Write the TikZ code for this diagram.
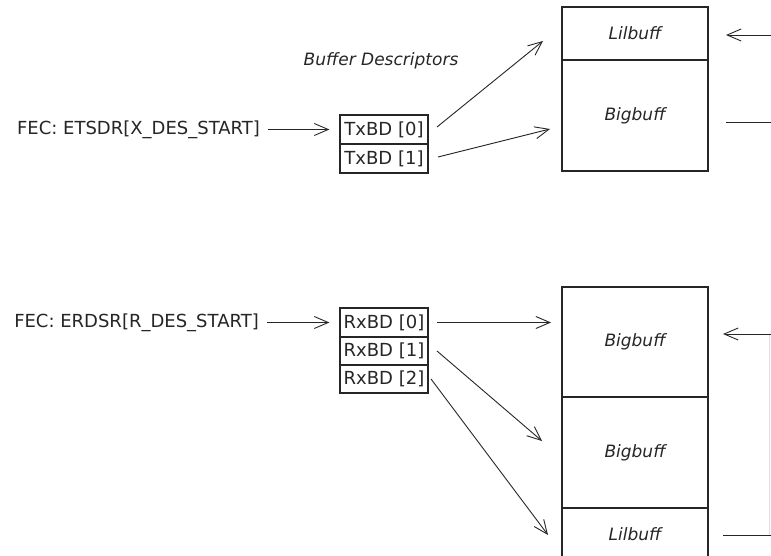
\documentclass[tikz,border=0pt]{standalone}
\usepackage{fontspec}
\setmainfont{DejaVu Sans}
\usetikzlibrary{arrows.meta}
\begin{document}
\begin{tikzpicture}[x=1pt,y=-1pt,
  ink/.style={text=black!85},
  lbl/.style={ink,font=\fontsize{18}{20}\selectfont,inner sep=0pt},
  ital/.style={ink,font=\fontsize{17}{19}\selectfont\itshape,inner sep=0pt},
  buf/.style={draw=black!85,line width=1.2pt,minimum width=146pt,inner sep=0pt,ink,font=\fontsize{17}{19}\selectfont\itshape},
  bd/.style={draw=black!85,line width=1.2pt,minimum width=88pt,inner sep=0pt,ink,font=\fontsize{18}{20}\selectfont},
  arr/.style={draw=black!85,line width=0.9pt,-{Straight Barb[length=14pt,width=12pt,line width=0.9pt]}},
  plain/.style={draw=black!85,line width=0.9pt},
  faint/.style={draw=black!12,line width=0.6pt}]
\clip (0,0) rectangle (771,556);
\fill[white] (0,0) rectangle (771,556);

% ---- transmit part ----
\node[lbl] (fecT) at (138.5,129.5) {FEC: ETSDR[X\_DES\_START]};
\node[ital] (bdlbl) at (381,61) {Buffer Descriptors};
\node[bd,minimum height=29pt] (tx0) at (384,129.5) {TxBD [0]};
\node[bd,minimum height=29pt] (tx1) at (384,158.5) {TxBD [1]};
\node[buf,minimum height=53pt] (tl) at (635,33.5) {Lilbuff};
\node[buf,minimum height=111pt] (tb) at (635,115.5) {Bigbuff};

\draw[arr,shorten <=8pt,shorten >=10pt] (fecT) -- (tx0);
\coordinate (t0s) at (437,127);
\coordinate (t0e) at (543,41);
\coordinate (t1s) at (438,157);
\coordinate (t1e) at (550,129);
\draw[arr] (t0s) -- (t0e);
\draw[arr] (t1s) -- (t1e);

\coordinate (ta1) at (775,35);
\coordinate (ta2) at (726,35);
\coordinate (tb1) at (726,122);
\coordinate (tb2) at (775,122);
\draw[arr] (ta1) -- (ta2);
\draw[plain] (tb1) -- (tb2);

% ---- receive part ----
\node[lbl] (fecR) at (136.5,322.5) {FEC: ERDSR[R\_DES\_START]};
\node[bd,minimum height=29pt] (rx0) at (384,322.5) {RxBD [0]};
\node[bd,minimum height=28pt] (rx1) at (384,351) {RxBD [1]};
\node[bd,minimum height=28pt] (rx2) at (384,379) {RxBD [2]};
\node[buf,minimum height=110pt] (b1) at (635,342) {Bigbuff};
\node[buf,minimum height=111pt] (b2) at (635,452.5) {Bigbuff};
\node[buf,minimum height=52pt] (bl) at (635,534) {Lilbuff};

\draw[arr,shorten <=8pt,shorten >=10pt] (fecR) -- (rx0);
\coordinate (r0s) at (437,322.5);
\coordinate (r0e) at (551,322.5);
\coordinate (r1s) at (437,351);
\coordinate (r1e) at (542,441);
\coordinate (r2s) at (431,379);
\coordinate (r2e) at (548,535);
\draw[arr] (r0s) -- (r0e);
\draw[arr] (r1s) -- (r1e);
\draw[arr] (r2s) -- (r2e);

\coordinate (ra1) at (775,334);
\coordinate (ra2) at (723,334);
\coordinate (rb1) at (723,535);
\coordinate (rb2) at (775,535);
\coordinate (rv1) at (769.5,334);
\coordinate (rv2) at (769.5,535);
\draw[faint] (rv1) -- (rv2);
\draw[arr] (ra1) -- (ra2);
\draw[plain] (rb1) -- (rb2);
\end{tikzpicture}
\end{document}
